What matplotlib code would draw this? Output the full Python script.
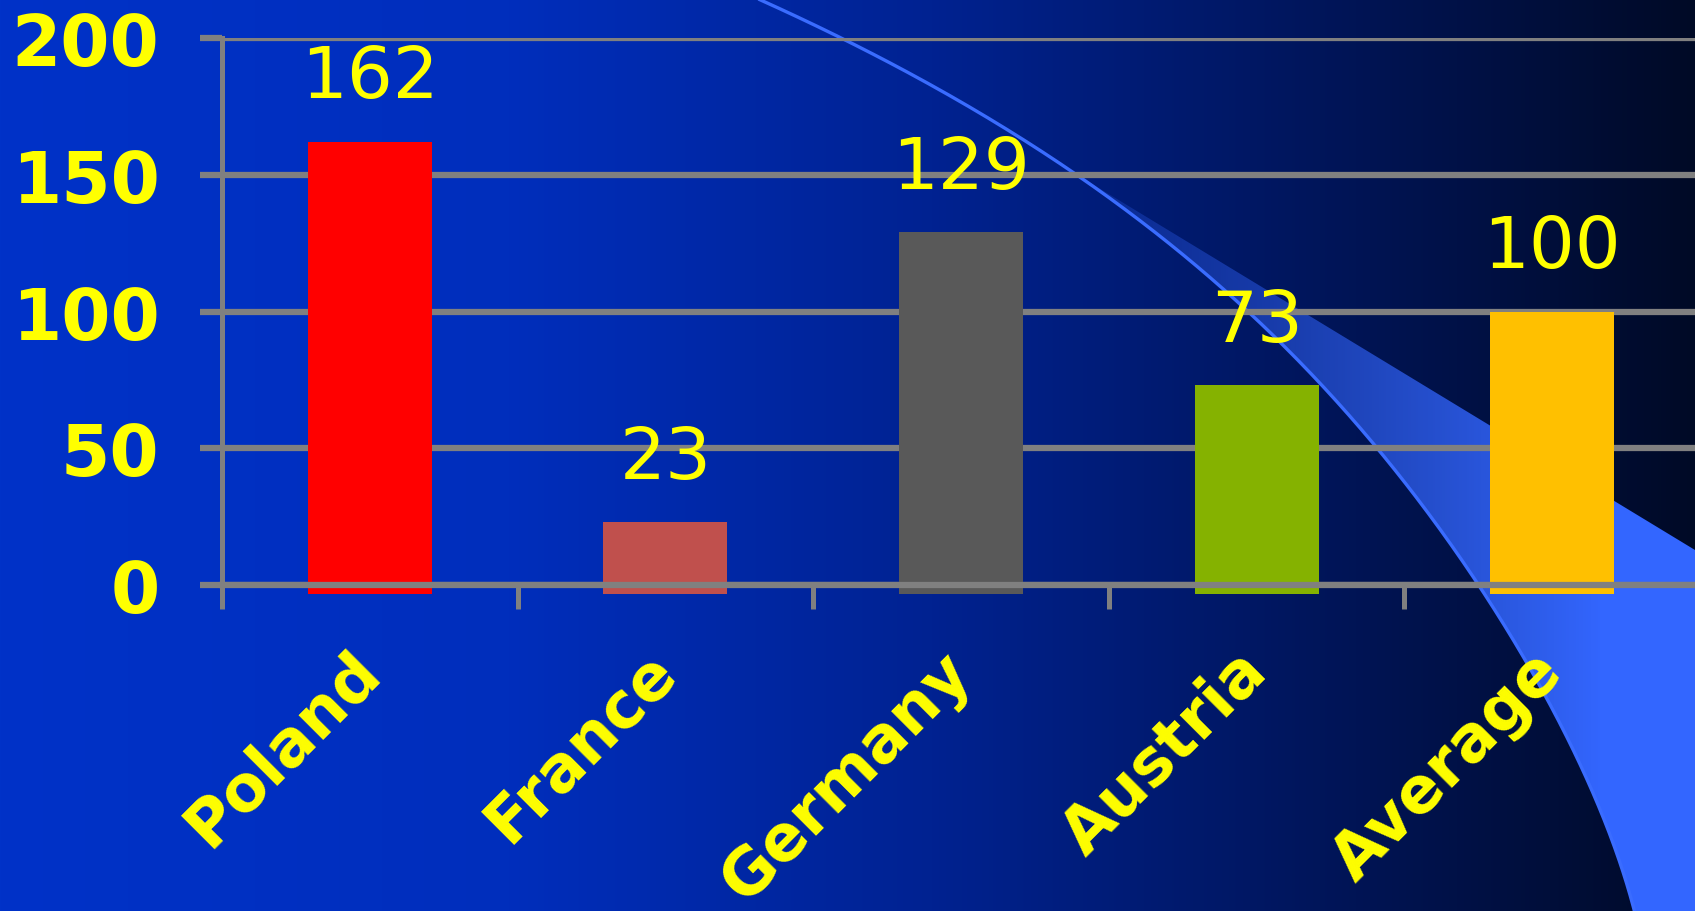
import numpy as np
import matplotlib
matplotlib.use("Agg")
import matplotlib.pyplot as plt
from matplotlib.path import Path
from matplotlib.patches import PathPatch
from matplotlib.transforms import ScaledTranslation

# ---- chart data ----
categories = ["Poland", "France", "Germany", "Austria", "Average"]
values = [162, 23, 129, 73, 100]
bar_colors = ["#ff0000", "#c0504d", "#595959", "#85b200", "#ffc000"]
y_ticks = [0, 50, 100, 150, 200]

YELLOW = "#ffff00"
GRID = "#808080"

W, H = 1695, 912
DPI = 100
fig = plt.figure(figsize=(W / DPI, H / DPI), dpi=DPI)

# ---- slide background: horizontal blue-to-black gradient ----
bg = fig.add_axes([0, 0, 1, 1])
bg.set_xlim(0, W)
bg.set_ylim(H, 0)
bg.axis("off")
t = np.linspace(0, 1, W)
stop_t = [0.0, 0.3, 0.55, 0.8, 1.0]
stop_c = np.array([[0, 50, 200], [0, 46, 188], [0, 34, 145],
                   [0, 20, 85], [0, 10, 38]]) / 255.0
row = np.stack([np.interp(t, stop_t, stop_c[:, k]) for k in range(3)], axis=-1)
bg.imshow(np.tile(row[None, :, :], (H, 1, 1)), extent=[0, W, H, 0],
          aspect="auto", interpolation="bilinear", zorder=0)

# ---- decorative swoosh (figure pixel space, y measured from top) ----
ctrl = np.array([(755, 0), (847, 40), (953, 97), (1013, 135), (1073, 173),
                 (1120, 208), (1222, 291), (1300, 365), (1377, 444),
                 (1447, 540), (1483, 590), (1533, 680), (1567, 740),
                 (1600, 807), (1633, 907)], dtype=float)
coef = np.polyfit(ctrl[:, 1], ctrl[:, 0], 4)
ys = np.linspace(0, H, 400)
xs = np.polyval(coef, ys)

start_y = 173.0
band_ys = np.linspace(start_y, H, 300)
band_xs = np.polyval(coef, band_ys)
x0 = np.polyval(coef, start_y)
poly = [(x0, start_y), (W, 551), (W, H)] + list(zip(band_xs[::-1], band_ys[::-1]))
patch = PathPatch(Path(poly), facecolor="none", edgecolor="none")
bg.add_patch(patch)

alpha = np.clip(0.15 + 0.85 * (np.arange(W) - x0) / (1600 - x0), 0, 1)
fill = np.zeros((H, W, 4))
fill[..., 0] = 51 / 255
fill[..., 1] = 102 / 255
fill[..., 2] = 1.0
fill[..., 3] = alpha[None, :]
im = bg.imshow(fill, extent=[0, W, H, 0], aspect="auto", zorder=1)
im.set_clip_path(patch)
bg.plot(xs, ys, color="#3a6cff", lw=2.4, zorder=2, solid_capstyle="butt")
bg.set_xlim(0, W)
bg.set_ylim(H, 0)

# ---- bar chart ----
left, right, y0_px, y200_px = 222, 1700, 586, 39
ax = fig.add_axes([left / W, (H - y0_px) / H, (right - left) / W,
                   (y0_px - y200_px) / H])
ax.set_facecolor("none")
ax.set_xlim(-0.5, len(categories) - 0.5)
ax.set_ylim(0, 200)

x = np.arange(len(categories))
base = -3.3
ax.bar(x, np.array(values) - base, bottom=base, width=0.42,
       color=bar_colors, zorder=2, clip_on=False)

for i, v in enumerate(values):
    ax.annotate(f"{v}", xy=(i, v), xytext=(0, 32), textcoords="offset points",
                ha="center", va="baseline", fontsize=52, color=YELLOW,
                annotation_clip=False)

for side in ("top", "right"):
    ax.spines[side].set_visible(False)
ax.spines["left"].set_color(GRID)
ax.spines["left"].set_linewidth(3.6)
ax.spines["bottom"].set_color(GRID)
ax.spines["bottom"].set_linewidth(4.5)
ax.spines["bottom"].set_zorder(3)

ax.set_axisbelow(True)
ax.yaxis.grid(True, color=GRID, linewidth=4.5)
ax.set_yticks(y_ticks)
ax.set_yticklabels([str(v) for v in y_ticks], fontweight="bold")
ax.tick_params(axis="y", length=16, width=4.5, color=GRID, pad=29,
               labelsize=51, labelcolor=YELLOW)

ax.set_xticks(x)
ax.set_xticklabels(categories, fontweight="bold")
ax.set_xticks(np.arange(-0.5, len(categories), 1.0), minor=True)
ax.tick_params(axis="x", which="major", length=0, pad=64,
               labelsize=46, labelcolor=YELLOW)
ax.tick_params(axis="x", which="minor", length=17, width=3.6, color=GRID)
shift = ScaledTranslation(13 / DPI, 0, fig.dpi_scale_trans)
for lab in ax.get_xticklabels():
    lab.set_rotation(45)
    lab.set_ha("right")
    lab.set_va("baseline")
    lab.set_rotation_mode("anchor")
    lab.set_transform(lab.get_transform() + shift)

fig.savefig("out.png", dpi=DPI)
